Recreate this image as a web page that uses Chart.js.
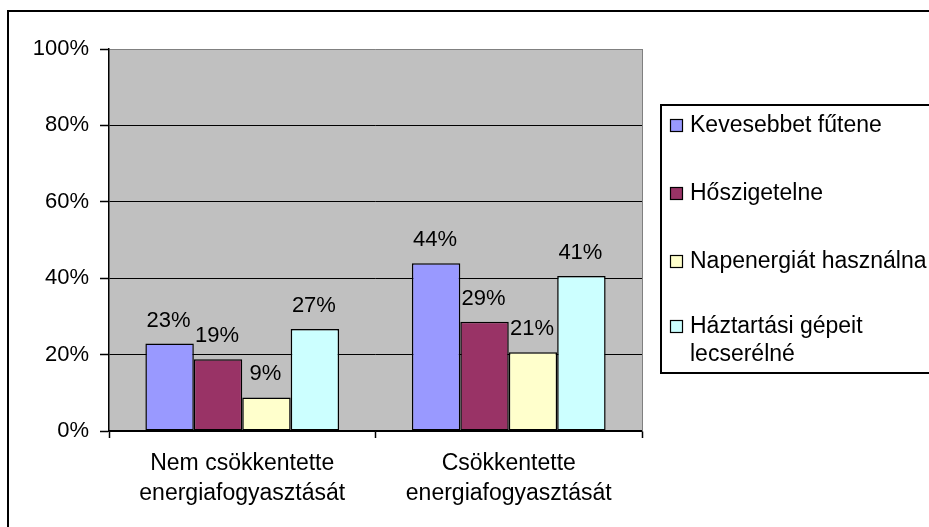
<!DOCTYPE html>
<html>
<head>
<meta charset="utf-8">
<script src="https://cdn.jsdelivr.net/npm/chart.js@4/dist/chart.umd.min.js"></script>
<style>
  html, body { margin: 0; padding: 0; background: #fff; }
  canvas { display: block; }
</style>
</head>
<body>
<canvas id="chart" width="929" height="527"></canvas>
<script>
// categories and series (percent values)
const categories = [
  ['Nem csökkentette', 'energiafogyasztását'],
  ['Csökkentette', 'energiafogyasztását']
];
const seriesNames = ['Kevesebbet fűtene', 'Hőszigetelne', 'Napenergiát használna', 'Háztartási gépeit lecserélné'];
const legendLines = [['Kevesebbet fűtene'], ['Hőszigetelne'], ['Napenergiát használna'], ['Háztartási gépeit', 'lecserélné']];
const kevesebbet = [22.9, 43.9];
const hoszigetelne = [18.8, 28.6];
const napenergia = [8.8, 20.6];
const haztartasi = [26.7, 40.6];
const seriesColors = ['#9999FF', '#993366', '#FFFFCC', '#CCFFFF'];
const yTicks = [0, 20, 40, 60, 80, 100];

const FONT = 'Liberation Sans, Arial, sans-serif';

// frame + gray plot background
const backdrop = {
  id: 'backdrop',
  beforeDraw(chart) {
    const { ctx, chartArea: a } = chart;
    ctx.save();
    ctx.fillStyle = '#000';
    ctx.fillRect(7, 10, 2, 527);
    ctx.fillRect(7, 10, 929, 2);
    ctx.fillStyle = '#C0C0C0';
    ctx.fillRect(a.left, a.top, a.right - a.left, a.bottom - a.top);
    ctx.restore();
  },
  beforeDatasetsDraw(chart) {
    const { ctx, chartArea: a } = chart;
    ctx.save();
    ctx.strokeStyle = '#808080';
    ctx.lineWidth = 1;
    ctx.beginPath();
    ctx.moveTo(a.right + 0.5, a.top);
    ctx.lineTo(a.right + 0.5, a.bottom);
    ctx.stroke();
    ctx.restore();
  }
};

// value labels above bars
const valueLabels = {
  id: 'valueLabels',
  afterDatasetsDraw(chart) {
    const ctx = chart.ctx;
    ctx.save();
    ctx.font = '22px ' + FONT;
    ctx.fillStyle = '#000';
    ctx.textAlign = 'center';
    ctx.textBaseline = 'alphabetic';
    chart.data.datasets.forEach((ds, i) => {
      chart.getDatasetMeta(i).data.forEach((bar, j) => {
        ctx.fillText(Math.round(ds.data[j]) + '%', bar.x - 1, bar.y - 17);
      });
    });
    ctx.restore();
  }
};

// legend box at the right, partly cut off by the canvas edge
const sideLegend = {
  id: 'sideLegend',
  afterDraw(chart) {
    const ctx = chart.ctx;
    ctx.save();
    ctx.fillStyle = '#fff';
    ctx.fillRect(661, 105, 300, 268);
    ctx.strokeStyle = '#000';
    ctx.lineWidth = 2;
    ctx.strokeRect(661, 105, 300, 268);
    ctx.font = '23px ' + FONT;
    ctx.textBaseline = 'middle';
    ctx.textAlign = 'left';
    const rows = [126, 194, 262, 327];
    chart.data.datasets.forEach((ds, i) => {
      const y = rows[i];
      ctx.fillStyle = ds.backgroundColor;
      ctx.fillRect(670.5, y - 6.5, 12, 12);
      ctx.strokeStyle = '#000';
      ctx.lineWidth = 1.2;
      ctx.strokeRect(670.5, y - 6.5, 12, 12);
      ctx.fillStyle = '#000';
      legendLines[i].forEach((line, k) => {
        ctx.fillText(line, 690, y + k * 28);
      });
    });
    ctx.restore();
  }
};

const series = [kevesebbet, hoszigetelne, napenergia, haztartasi];

new Chart(document.getElementById('chart'), {
  type: 'bar',
  data: {
    labels: categories,
    datasets: series.map((vals, i) => ({
      label: seriesNames[i],
      data: vals,
      backgroundColor: seriesColors[i],
      borderColor: '#000',
      borderWidth: 1.5,
      borderSkipped: false,
      barPercentage: 1,
      categoryPercentage: 0.727
    }))
  },
  options: {
    responsive: false,
    animation: false,
    devicePixelRatio: 1,
    layout: { padding: { left: 0, top: 49, right: 287, bottom: 0 } },
    plugins: {
      legend: { display: false },
      tooltip: { enabled: false }
    },
    scales: {
      x: {
        afterFit: scale => { scale.height = 96; },
        grid: {
          offset: true,
          drawOnChartArea: false,
          tickLength: 7,
          tickColor: '#000',
          tickWidth: 1.5
        },
        border: { color: '#000', width: 1.5 },
        ticks: {
          color: '#000',
          padding: 11,
          maxRotation: 0,
          font: { family: FONT, size: 23, lineHeight: 30 / 23 }
        }
      },
      y: {
        min: 0,
        max: 100,
        afterFit: scale => { scale.width = 109; },
        afterBuildTicks: scale => {
          scale.ticks = yTicks.map(v => ({ value: v }));
        },
        grid: {
          color: ctx => (ctx.tick && ctx.tick.value === 100 ? '#808080' : '#000'),
          lineWidth: 1,
          tickLength: 9,
          tickColor: '#000',
          tickWidth: 1.5
        },
        border: { color: '#000', width: 1.5 },
        ticks: {
          color: '#000',
          padding: 11,
          font: { family: FONT, size: 22 },
          callback: v => v + '%'
        }
      }
    }
  },
  plugins: [backdrop, valueLabels, sideLegend]
});
</script>
</body>
</html>
